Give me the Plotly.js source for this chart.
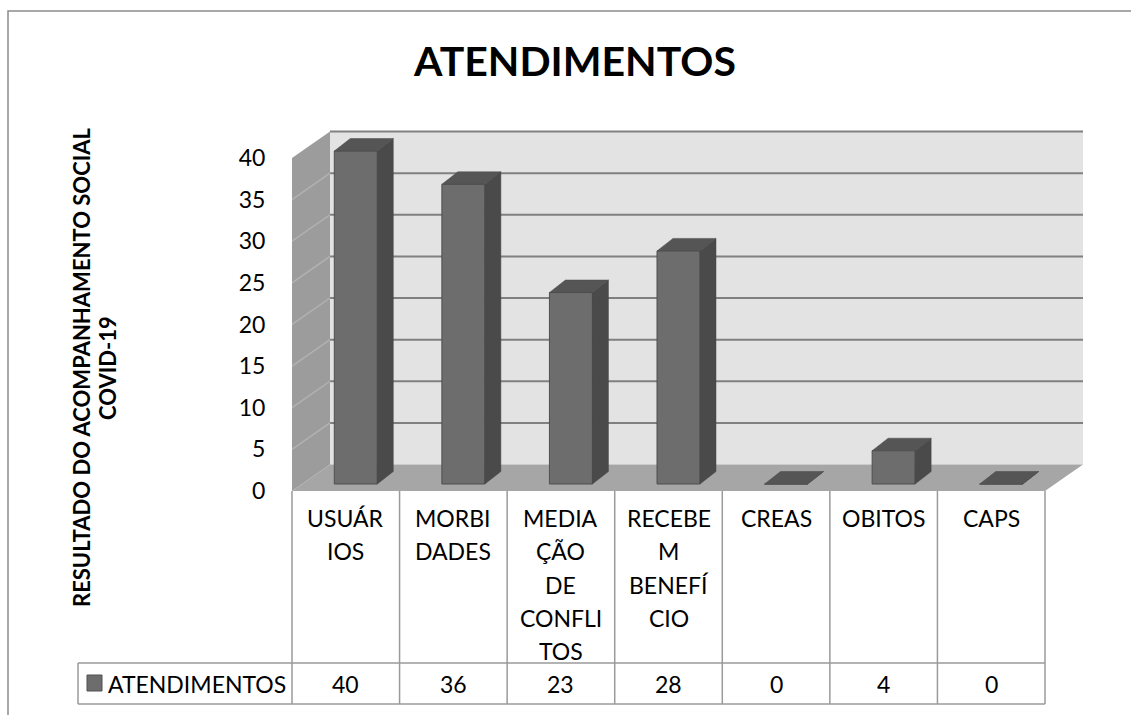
<!DOCTYPE html>
<html><head><meta charset="utf-8">
<script src="https://cdn.plot.ly/plotly-3.0.1.min.js"></script>
<style>html,body{margin:0;padding:0;background:#fff}#chart{width:1131px;height:715px}</style>
</head><body><div id="chart"></div>
<script>
// ---- data ----
const categories = ["USUÁRIOS", "MORBIDADES", "MEDIAÇÃO DE CONFLITOS", "RECEBEM BENEFÍCIO", "CREAS", "OBITOS", "CAPS"];
const categoryLabelLines = [["USUÁR", "IOS"], ["MORBI", "DADES"], ["MEDIA", "ÇÃO", "DE", "CONFLI", "TOS"], ["RECEBE", "M", "BENEFÍ", "CIO"], ["CREAS"], ["OBITOS"], ["CAPS"]];
const seriesName = "ATENDIMENTOS";
const values = [40, 36, 23, 28, 0, 4, 0];
const yTicks = [0, 5, 10, 15, 20, 25, 30, 35, 40];
const chartTitle = "ATENDIMENTOS";
const yTitleLines = ["RESULTADO DO ACOMPANHAMENTO SOCIAL", "COVID-19"];

// ---- geometry (pixels of the frame) ----
const W = 1131, H = 715;
const L = 292, R = 1085, T = 130, B = 491;
const plotW = R - L, plotH = B - T;
const pxPerUnit = (491 - 158) / 40;
const catPx = (1045 - 292) / 7;
const yMax = plotH / pxPerUnit;
const xMax = plotW / catPx;
const n = categories.length;
const yTop = yTicks[yTicks.length - 1];
// 3D offsets
const bx = 38 / catPx, by = 26.5 / pxPerUnit;      // back wall
const barDX = 10 / catPx, barDY = 7 / pxPerUnit;    // bar plane
const barW = 43 / catPx;
const dDX = 16 / catPx, dDY = 12.5 / pxPerUnit;     // bar depth

const px = x => (x - L) / plotW;
const py = y => (B - y) / plotH;

const font = "Lato, 'Open Sans', sans-serif";
const gridCol = "#808080";

// ---- shapes: walls, floor, grid ----
const shapes = [];
shapes.push({type: "path", xref: "x", yref: "y", layer: "below",
  path: `M${bx},${by} L${bx + n},${by} L${bx + n},${by + yTop} L${bx},${by + yTop} Z`,
  fillcolor: "#e3e3e3", line: {width: 0}});
shapes.push({type: "path", xref: "x", yref: "y", layer: "below",
  path: `M0,0 L0,${yTop} L${bx},${by + yTop} L${bx},${by} Z`,
  fillcolor: "#9c9c9c", line: {width: 0}});
shapes.push({type: "path", xref: "x", yref: "y", layer: "below",
  path: `M0,0 L${n},0 L${n + bx},${by} L${bx},${by} Z`,
  fillcolor: "#a6a6a6", line: {width: 0}});
yTicks.forEach(t => {
  if (t === 0) return;
  shapes.push({type: "line", xref: "x", yref: "y", layer: "below",
    x0: bx, x1: bx + n, y0: by + t, y1: by + t, line: {color: gridCol, width: 2}});
  if (t < yTop) shapes.push({type: "line", xref: "x", yref: "y", layer: "below",
    x0: 0, x1: bx, y0: t, y1: by + t, line: {color: "#b2b2b2", width: 1.5}});
});

// ---- data table grid ----
const tblTop = 491, rowLine = 663, tblBot = 704, legL = 78;
const tblLine = {color: "#9a9a9a", width: 1.5};
for (let k = 0; k <= n; k++) {
  const xp = px(L + k * catPx);
  shapes.push({type: "line", xref: "paper", yref: "paper", x0: xp, x1: xp, y0: py(tblTop), y1: py(tblBot), line: tblLine});
}
shapes.push({type: "line", xref: "paper", yref: "paper", x0: px(legL), x1: px(legL), y0: py(rowLine), y1: py(tblBot), line: tblLine});
shapes.push({type: "line", xref: "paper", yref: "paper", x0: px(legL), x1: px(L + n * catPx), y0: py(rowLine), y1: py(rowLine), line: tblLine});
shapes.push({type: "line", xref: "paper", yref: "paper", x0: px(legL), x1: px(L + n * catPx), y0: py(tblBot), y1: py(tblBot), line: tblLine});
// legend key
shapes.push({type: "rect", xref: "paper", yref: "paper", x0: px(87), x1: px(102), y0: py(675), y1: py(691),
  fillcolor: "#6d6d6d", line: {color: "#505050", width: 1}});
// outer chart border
shapes.push({type: "rect", xref: "paper", yref: "paper", x0: px(8), x1: px(1140), y0: py(11), y1: py(730),
  fillcolor: "rgba(0,0,0,0)", line: {color: "#8c8c8c", width: 1.5}});

// ---- annotations ----
const annotations = [];
categoryLabelLines.forEach((lines, i) => {
  lines.forEach((s, j) => {
    annotations.push({xref: "x", yref: "paper", x: i + 0.5, y: py(518 + 33.3 * j), text: s,
      showarrow: false, xanchor: "center", yanchor: "middle", font: {family: font, size: 23, color: "#000"}});
  });
});
values.forEach((v, i) => {
  annotations.push({xref: "x", yref: "paper", x: i + 0.5, y: py(684), text: String(v),
    showarrow: false, xanchor: "center", yanchor: "middle", font: {family: font, size: 23, color: "#000"}});
});
annotations.push({xref: "paper", yref: "paper", x: px(106), y: py(684), text: seriesName,
  showarrow: false, xanchor: "left", yanchor: "middle", font: {family: font, size: 23, color: "#000"}});
// y-axis title (two rotated lines)
yTitleLines.forEach((s, j) => {
  annotations.push({xref: "paper", yref: "paper", x: px(81 + 26 * j), y: py(368), text: s, textangle: -90,
    showarrow: false, xanchor: "center", yanchor: "middle", font: {family: font, size: 22, weight: "bold", color: "#000"}});
});

// ---- traces ----
const xs = values.map((v, i) => i + 0.5 + barDX);
const frontTrace = {type: "bar", x: xs, y: values, base: barDY, width: barW, name: seriesName,
  marker: {color: "#6d6d6d", line: {color: "#4f4f4f", width: 1}}, showlegend: false, hoverinfo: "y"};
const sx = [], sy = [], tx = [], ty = [];
values.forEach((v, i) => {
  const xr = xs[i] + barW / 2, xl = xs[i] - barW / 2;
  const y0 = barDY, y1 = barDY + v;
  sx.push(xr, xr, xr + dDX, xr + dDX, xr, null);
  sy.push(y0, y1, y1 + dDY, y0 + dDY, y0, null);
  tx.push(xl, xr, xr + dDX, xl + dDX, xl, null);
  ty.push(y1, y1, y1 + dDY, y1 + dDY, y1, null);
});
const sideTrace = {type: "scatter", mode: "lines", x: sx, y: sy, fill: "toself", fillcolor: "#4a4a4a",
  line: {color: "#444", width: 0.5}, showlegend: false, hoverinfo: "skip"};
const topTrace = {type: "scatter", mode: "lines", x: tx, y: ty, fill: "toself", fillcolor: "#555555",
  line: {color: "#4a4a4a", width: 0.5}, showlegend: false, hoverinfo: "skip"};

const layout = {
  width: W, height: H,
  margin: {l: L, r: W - R, t: T, b: H - B, pad: 0},
  paper_bgcolor: "#fff", plot_bgcolor: "rgba(0,0,0,0)",
  font: {family: font, color: "#000"},
  showlegend: false,
  title: {text: chartTitle, font: {family: font, size: 41, weight: "bold", color: "#000"},
    xref: "container", yref: "container", x: 575 / W, y: 1 - 62 / H, xanchor: "center", yanchor: "middle"},
  xaxis: {range: [0, xMax], visible: false, fixedrange: true},
  yaxis: {range: [0, yMax], tickvals: yTicks, ticktext: yTicks.map(String),
    ticks: "outside", ticklen: 21, tickcolor: "rgba(0,0,0,0)",
    showgrid: false, zeroline: false, showline: false,
    tickfont: {family: font, size: 23, color: "#000"}},
  shapes: shapes, annotations: annotations
};
Plotly.newPlot("chart", [frontTrace, sideTrace, topTrace], layout, {staticPlot: true});
</script>
</body></html>
